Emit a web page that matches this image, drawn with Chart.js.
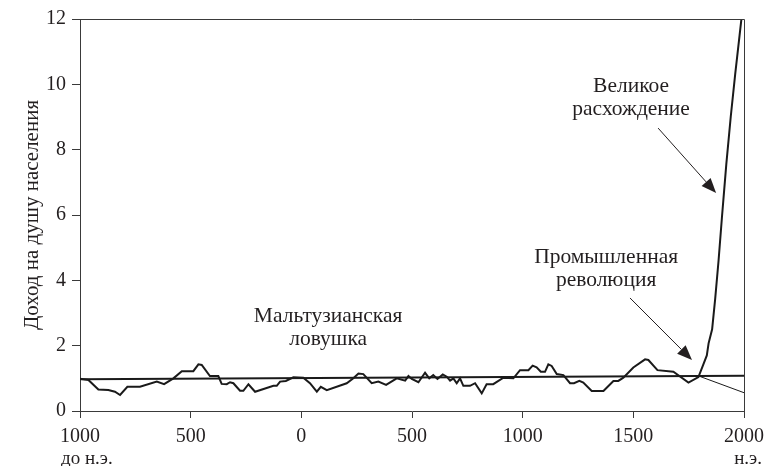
<!DOCTYPE html>
<html>
<head>
<meta charset="utf-8">
<script src="https://cdn.jsdelivr.net/npm/chart.js@4/dist/chart.umd.min.js"></script>
<style>
  html, body { margin: 0; padding: 0; background: #ffffff; }
  #wrap { width: 768px; height: 466px; position: relative; }
</style>
</head>
<body>
<div id="wrap"><canvas id="chart" width="768" height="466"></canvas></div>
<script>
// Годы (отрицательные = до н.э.) и доход на душу населения
const years = [
  -1000, -962, -917, -872, -842, -819, -786, -729, -653, -620, -578, -540, -488, -465, -450,
  -413, -375, -360, -337, -322, -307, -277, -262, -239, -209, -126, -111, -96, -70, -36,
  9, 39, 70, 88, 115, 205, 235, 258, 280, 318, 348, 383, 431, 469, 484,
  499, 529, 559, 578, 596, 615, 639, 657, 672, 687, 702, 717, 732, 762, 785,
  815, 837, 867, 913, 958, 988, 1026, 1045, 1063, 1082, 1101, 1116, 1131, 1154, 1184,
  1214, 1232, 1256, 1274, 1312, 1365, 1410, 1432, 1455, 1500, 1553, 1568, 1609, 1681, 1749,
  1794, 1816, 1832, 1840, 1856, 1870, 1885, 1900, 1920, 1940, 1960, 1980, 1995
];
const income = [
  0.99, 0.95, 0.66, 0.64, 0.59, 0.49, 0.74, 0.74, 0.90, 0.82, 1.00, 1.22, 1.22, 1.43, 1.41,
  1.07, 1.07, 0.83, 0.82, 0.88, 0.85, 0.62, 0.62, 0.82, 0.59, 0.77, 0.77, 0.90, 0.92, 1.03,
  1.02, 0.85, 0.59, 0.74, 0.64, 0.85, 1.00, 1.15, 1.13, 0.85, 0.90, 0.80, 1.00, 0.93, 1.07,
  0.98, 0.88, 1.17, 1.00, 1.10, 0.98, 1.12, 1.05, 0.93, 1.00, 0.85, 1.00, 0.77, 0.77, 0.85,
  0.54, 0.82, 0.82, 1.02, 1.00, 1.25, 1.25, 1.39, 1.34, 1.20, 1.20, 1.43, 1.38, 1.13, 1.10,
  0.85, 0.85, 0.92, 0.87, 0.61, 0.61, 0.92, 0.92, 1.02, 1.33, 1.58, 1.56, 1.25, 1.20, 0.87,
  1.04, 1.42, 1.70, 2.07, 2.50, 3.45, 4.60, 5.90, 7.55, 9.00, 10.30, 11.50, 12.40
];

// Прямая уровня выживания и продолжение без промышленной революции
const subsistenceYears = [-1000, 2000];
const subsistence = [0.97, 1.08];
const declineYears = [1800, 2000];
const decline = [1.06, 0.56];

const xTicks = [-1000, -500, 0, 500, 1000, 1500, 2000];
const yTicks = [0, 2, 4, 6, 8, 10, 12];

// Подписи и стрелки (в единицах данных)
const notes = [
  { x: 1490, y: 9.76, lines: ['Великое', 'расхождение'] },
  { x: 1377, y: 4.53, lines: ['Промышленная', 'революция'] },
  { x: 121, y: 2.72, lines: ['Мальтузианская', 'ловушка'] }
];
const arrows = [
  { from: [1612, 8.66], to: [1874, 6.67] },
  { from: [1485, 3.46], to: [1765, 1.56] }
];

const INK = '#231f20';
const AXIS = '#3a3a3a';
const FONT = "'Liberation Serif', 'DejaVu Serif', serif";

function pts(xs, ys) {
  return xs.map((x, i) => ({ x: x, y: ys[i] }));
}

const overlay = {
  id: 'overlay',
  afterDraw(chart) {
    const { ctx, chartArea: a, scales: { x, y } } = chart;
    ctx.save();

    // рамка сверху и справа
    ctx.strokeStyle = AXIS;
    ctx.lineWidth = 1;
    ctx.beginPath();
    ctx.moveTo(a.left, a.top + 0.5);
    ctx.lineTo(a.right + 0.5, a.top + 0.5);
    ctx.lineTo(a.right + 0.5, a.bottom);
    ctx.stroke();

    // подписи внутри графика
    ctx.fillStyle = INK;
    ctx.font = '21.5px ' + FONT;
    ctx.textAlign = 'center';
    ctx.textBaseline = 'alphabetic';
    notes.forEach(n => {
      const cx = x.getPixelForValue(n.x);
      const cy = y.getPixelForValue(n.y);
      n.lines.forEach((t, i) => ctx.fillText(t, cx, cy + i * 22.5));
    });

    // стрелки
    ctx.strokeStyle = INK;
    ctx.lineWidth = 1;
    arrows.forEach(ar => {
      const x1 = x.getPixelForValue(ar.from[0]), y1 = y.getPixelForValue(ar.from[1]);
      const x2 = x.getPixelForValue(ar.to[0]), y2 = y.getPixelForValue(ar.to[1]);
      const ang = Math.atan2(y2 - y1, x2 - x1);
      const len = 15, half = 6;
      const bx = x2 - len * Math.cos(ang), by = y2 - len * Math.sin(ang);
      ctx.beginPath();
      ctx.moveTo(x1, y1);
      ctx.lineTo(bx, by);
      ctx.stroke();
      ctx.beginPath();
      ctx.moveTo(x2, y2);
      ctx.lineTo(bx + half * Math.sin(ang), by - half * Math.cos(ang));
      ctx.lineTo(bx - half * Math.sin(ang), by + half * Math.cos(ang));
      ctx.closePath();
      ctx.fill();
    });

    // до н.э. / н.э. под осью
    ctx.font = '19px ' + FONT;
    ctx.textBaseline = 'middle';
    ctx.textAlign = 'left';
    ctx.fillText('до н.э.', x.getPixelForValue(-1000) - 19, 459);
    ctx.textAlign = 'right';
    ctx.fillText('н.э.', x.getPixelForValue(2000) + 18, 459);

    // подпись оси Y
    ctx.font = '21px ' + FONT;
    ctx.translate(32, y.getPixelForValue(6));
    ctx.rotate(-Math.PI / 2);
    ctx.textAlign = 'center';
    ctx.fillText('Доход на душу населения', 0, 0);

    ctx.restore();
  }
};

new Chart(document.getElementById('chart'), {
  type: 'line',
  data: {
    datasets: [
      {
        data: pts(subsistenceYears, subsistence),
        borderColor: '#1a1a1a',
        borderWidth: 2,
        pointRadius: 0
      },
      {
        data: pts(declineYears, decline),
        borderColor: '#1a1a1a',
        borderWidth: 1,
        pointRadius: 0
      },
      {
        data: pts(years, income),
        borderColor: '#1a1a1a',
        borderWidth: 2,
        pointRadius: 0,
        tension: 0
      }
    ]
  },
  options: {
    responsive: false,
    animation: false,
    layout: { padding: { top: 19, right: 24, left: 0, bottom: 0 } },
    plugins: { legend: { display: false }, tooltip: { enabled: false } },
    scales: {
      x: {
        type: 'linear',
        min: -1000,
        max: 2000,
        afterBuildTicks: s => { s.ticks = xTicks.map(v => ({ value: v })); },
        afterFit: s => { s.height = 55; s.paddingLeft = 0; s.paddingRight = 0; },
        ticks: {
          callback: v => String(Math.abs(v)),
          color: INK,
          font: { family: FONT, size: 20 },
          padding: 7,
          maxRotation: 0,
          autoSkip: false
        },
        grid: { drawOnChartArea: false, drawTicks: true, tickLength: 7, color: AXIS },
        border: { display: true, color: AXIS, width: 1 }
      },
      y: {
        min: 0,
        max: 12,
        afterBuildTicks: s => { s.ticks = yTicks.map(v => ({ value: v })); },
        afterFit: s => { s.width = 80; },
        ticks: {
          color: INK,
          font: { family: FONT, size: 20 },
          padding: 6,
          autoSkip: false
        },
        grid: { drawOnChartArea: false, drawTicks: true, tickLength: 8, color: AXIS },
        border: { display: true, color: AXIS, width: 1 }
      }
    }
  },
  plugins: [overlay]
});
</script>
</body>
</html>
